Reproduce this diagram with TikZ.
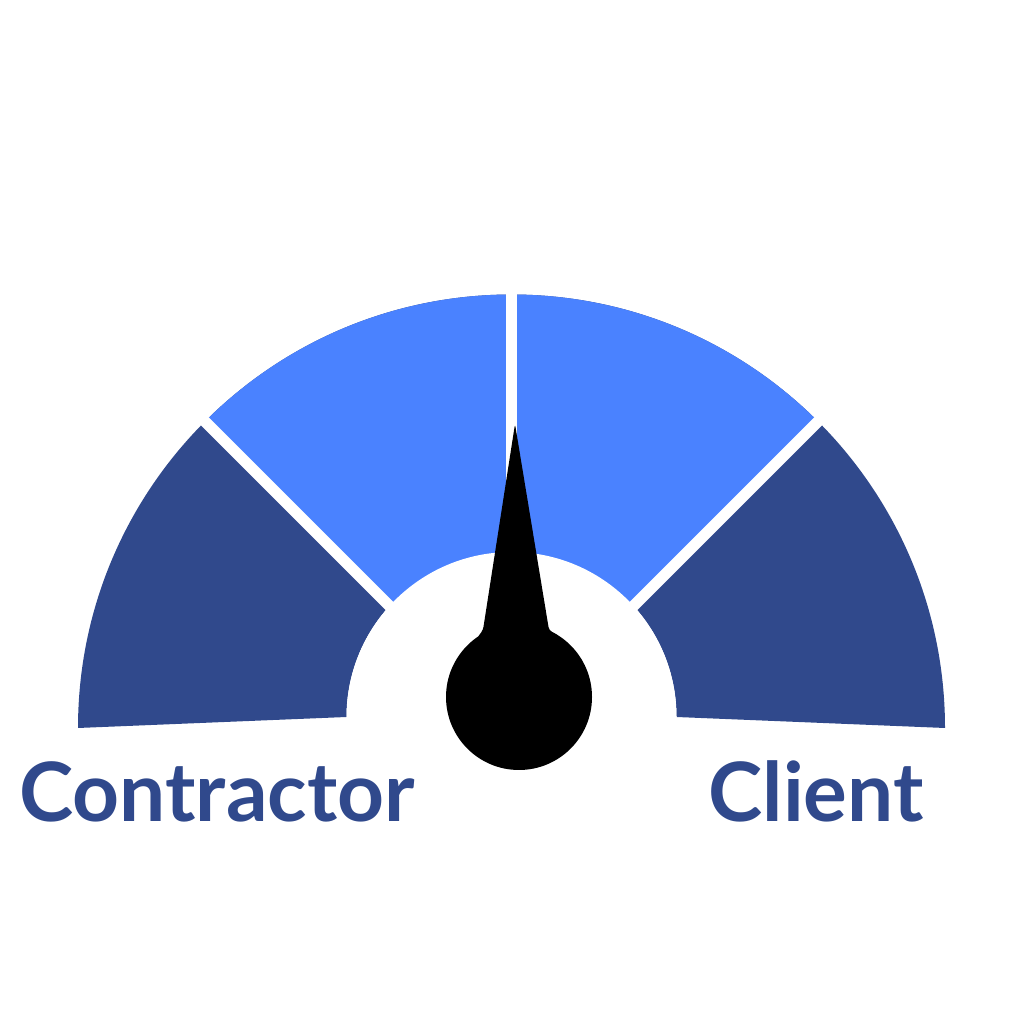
\documentclass[tikz,border=0pt]{standalone}
\usepackage{fontspec}
\setmainfont{Lato}
\definecolor{gaugedark}{RGB}{48,73,140}
\definecolor{gaugelight}{RGB}{74,130,255}
\begin{document}
\begin{tikzpicture}[
      x=0.1mm, y=0.1mm,
      dark/.style={fill=gaugedark},
      light/.style={fill=gaugelight},
      gap/.style={draw=white,line width=1.1mm},
      label/.style={text=gaugedark,font=\fontsize{23.3}{28}\selectfont\bfseries,inner sep=0pt,anchor=base},
    ]
    \useasboundingbox (0,0) rectangle (1024,1024);
    \coordinate (c) at (511.5,296);
    \coordinate (ci) at (511.5,307);
    % dial
    \fill[dark] (78,296) arc[start angle=180,end angle=0,radius=433.5]
      -- (676.5,307) arc[start angle=0,end angle=180,radius=165] -- cycle;
    \fill[light] (c) -- +(135:433.5) arc[start angle=135,end angle=45,radius=433.5] -- cycle;
    \foreach \a in {45,90,135}{
      \draw[gap] (c) -- +(\a:445);
    };
    \fill[white] (ci) circle (165);
    % needle
    \fill (519,327) circle (73);
    \fill[rounded corners=0.3mm] (515,600) -- (483,394) -- (477,386) -- (561,386) -- (549,394) -- cycle;
    \node[label] (contractor) at (217,202) {Contractor};
    \node[label] (client) at (816,202) {Client};
  \end{tikzpicture}
\end{document}
